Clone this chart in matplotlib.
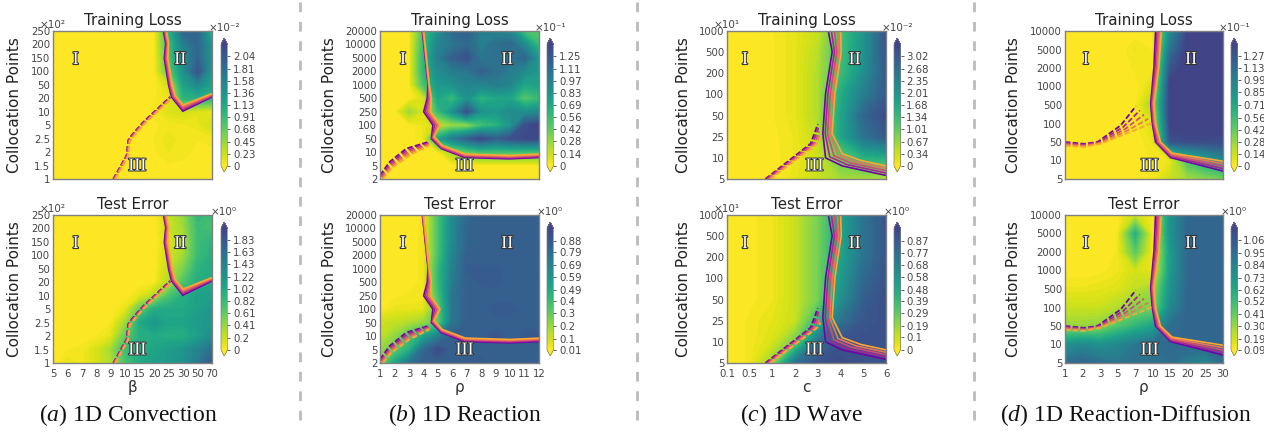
import numpy as np
import matplotlib
matplotlib.use("Agg")
import matplotlib.pyplot as plt
import matplotlib.patheffects as pe
from matplotlib.colors import ListedColormap

plt.rcParams['font.family'] = 'DejaVu Sans'
plt.rcParams['mathtext.fontset'] = 'custom'
plt.rcParams['mathtext.rm'] = 'Liberation Serif'
plt.rcParams['mathtext.it'] = 'Liberation Serif:italic'

# ---- tick labels ----
y_a = ['1', '1.5', '2', '2.5', '5', '10', '20', '50', '100', '150', '200', '250']
x_a = ['5', '6', '7', '8', '9', '10', '15', '20', '25', '30', '50', '70']
y_b = ['2', '5', '10', '50', '100', '250', '500', '1000', '2000', '5000', '10000', '20000']
x_b = ['1', '2', '3', '4', '5', '6', '7', '8', '9', '10', '11', '12']
y_c = ['5', '10', '25', '50', '100', '200', '500', '1000']
x_c = ['0.1', '0.5', '1', '2', '3', '4', '5', '6']
y_d = ['5', '10', '50', '100', '500', '1000', '2000', '5000', '10000']
x_d = ['1', '2', '3', '5', '7', '10', '15', '20', '25', '30']

# ---- grids, bottom row first ----
train_a = [
    [0, 0, 0, 0, 0, 0, 0, 0, 0, 0, 0, 0],
    [0, 0, 0, 0, 0, 0, 0, .01, .03, .03, .02, .02],
    [0, 0, 0, 0, 0, 0, 0, .03, .08, .05, .03, .03],
    [0, 0, 0, 0, 0, 0, 0, .04, .1, .05, .04, .05],
    [0, 0, 0, 0, 0, 0, 0, .03, .05, .06, .1, .2],
    [0, 0, 0, 0, 0, 0, 0, .05, .15, .2, .12, .1],
    [0, 0, 0, 0, 0, 0, 0, .03, .1, 1.0, 1.05, 1.0],
    [0, 0, 0, 0, 0, 0, 0, 0, .2, 1.2, 1.5, 1.2],
    [0, 0, 0, 0, 0, 0, 0, 0, .7, 1.4, 2.1, 1.3],
    [0, 0, 0, 0, 0, 0, 0, 0, .8, 1.5, 1.9, 1.35],
    [0, 0, 0, 0, 0, 0, 0, 0, .9, 1.6, 1.9, 1.3],
    [0, 0, 0, 0, 0, 0, 0, 0, 1.0, 1.9, 1.9, 1.0],
]
test_a = [
    [0, .1, .05, .15, .3, .7, 1.0, 1.1, 1.15, 1.25, 1.5, 1.85],
    [0, .03, .05, .15, .35, .8, .95, 1.05, 1.15, 1.2, 1.4, 1.6],
    [0, 0, 0, .03, .1, .6, .95, 1.0, .95, .95, 1.1, 1.3],
    [0, 0, 0, 0, .03, .35, 1.0, 1.2, 1.05, 1.05, 1.15, 1.2],
    [0, 0, 0, 0, 0, .1, .6, .95, 1.0, 1.0, 1.1, 1.2],
    [0, 0, 0, 0, 0, 0, .1, .3, .7, .95, 1.1, 1.1],
    [0, 0, 0, 0, 0, 0, 0, .02, .3, .7, .95, 1.0],
    [0, 0, 0, 0, 0, 0, 0, 0, .25, .5, .9, 1.0],
    [0, 0, 0, 0, 0, 0, 0, 0, .2, .35, .8, .95],
    [0, 0, 0, 0, 0, 0, 0, 0, .15, .3, .8, .9],
    [0, 0, 0, 0, 0, 0, 0, 0, .2, .35, .8, .75],
    [0, 0, 0, 0, 0, 0, 0, 0, .2, .4, .85, .8],
]
train_b = [
    [0, 0, 0, 0, 0, 0, 0, 0, 0, 0, 0, 0],
    [0, 0, 0, 0, 0, 0, 0, 0, 0, 0, 0, 0],
    [0, 0, 0, 0, .02, .25, .4, .5, .5, .5, .5, .5],
    [0, 0, 0, .05, .7, 1.0, 1.2, 1.35, 1.2, 1.3, 1.35, 1.35],
    [0, 0, 0, .05, .15, .25, .25, .5, .6, .8, 1.3, 1.4],
    [0, 0, .25, .1, .55, .85, 1.3, .85, .8, .9, .85, .9],
    [0, 0, 0, .1, .7, .55, .85, .6, .7, .7, .45, .55],
    [0, 0, 0, .5, .8, .85, .95, .95, 1.0, .95, .7, .75],
    [0, 0, 0, .6, .9, 1.0, 1.05, 1.2, 1.1, 1.0, .9, .8],
    [0, 0, 0, .6, 1.0, 1.2, 1.3, 1.05, 1.1, 1.1, 1.15, .8],
    [0, 0, 0, .55, .95, 1.05, 1.15, 1.0, 1.1, 1.15, .9, .55],
    [0, 0, 0, .5, .85, 1.15, 1.2, 1.0, .95, .9, .5, .45],
]
test_b = [
    [.25, .5, .75, .85, .85, .85, .87, .88, .85, .85, .85, .85],
    [.2, .3, .45, .8, .95, .85, .85, .85, .85, .85, .85, .85],
    [.12, .2, .35, .5, .7, .85, .85, .85, .9, .85, .88, .9],
    [.1, .12, .15, .2, .3, .75, .85, .85, .85, .85, .85, .85],
    [.02, .05, .05, .06, .3, .75, .85, .85, .88, .88, .85, .85],
    [.02, .02, .03, .03, .35, .75, .85, .85, .85, .85, .85, .85],
    [.01, .02, .02, .03, .4, .72, .85, .87, .88, .85, .85, .85],
    [.01, .01, .02, .03, .4, .7, .87, .87, .87, .85, .85, .85],
    [.01, .01, .02, .03, .35, .68, .85, .85, .85, .85, .85, .85],
    [.01, .01, .02, .03, .35, .65, .83, .85, .85, .85, .85, .85],
    [.01, .01, .02, .03, .35, .65, .83, .85, .85, .85, .85, .85],
    [.01, .01, .01, .03, .35, .65, .82, .85, .85, .85, .85, .85],
]
train_c = [
    [0, 0, 0, .15, .35, .55, .5, .45],
    [0, 0, .02, .12, .3, 1.0, 1.5, 1.6],
    [0, 0, .03, .12, .4, 1.7, 2.6, 3.0],
    [0, 0, .05, .15, .5, 1.7, 2.8, 3.25],
    [0, 0, .05, .15, .5, 1.6, 2.4, 3.0],
    [0, 0, .05, .15, .5, 1.3, 2.1, 3.0],
    [0, 0, .05, .15, .45, 1.3, 2.0, 3.1],
    [0, 0, .05, .15, .35, 1.2, 2.0, 3.1],
]
test_c = [
    [0, .02, .2, .75, .9, .93, .9, .9],
    [0, .02, .07, .25, .75, .9, .92, .9],
    [0, .02, .05, .1, .4, .75, .88, .92],
    [0, .01, .03, .1, .25, .6, .85, .92],
    [0, .01, .03, .1, .25, .55, .8, .9],
    [0, .01, .03, .1, .25, .5, .75, .88],
    [0, .01, .03, .1, .25, .5, .75, .88],
    [0, .01, .03, .1, .25, .5, .75, .88],
]
train_d = [
    [0, 0, 0, 0, 0, .03, .15, .25, .3, .35],
    [0, 0, 0, 0, 0, .03, .05, .5, .7, .9],
    [0, 0, 0, 0, 0, .05, 1.3, 1.35, 1.35, 1.35],
    [0, 0, 0, 0, .02, .1, 1.45, 1.45, 1.45, 1.45],
    [0, 0, 0, 0, .02, .25, 1.45, 1.45, 1.45, 1.45],
    [0, 0, 0, 0, 0, .1, 1.45, 1.45, 1.45, 1.45],
    [0, 0, 0, 0, .03, .03, 1.3, 1.45, 1.45, 1.45],
    [0, 0, 0, 0, .05, .02, 1.1, 1.45, 1.45, 1.45],
    [0, 0, 0, 0, 0, .02, .9, 1.4, 1.45, 1.45],
]
test_d = [
    [.95, 1.0, .95, .9, .95, .95, .95, .85, .8, .95],
    [.75, .8, .75, .8, .9, .95, .98, 1.0, 1.0, 1.0],
    [.3, .3, .32, .45, .55, .65, .95, 1.0, 1.0, 1.0],
    [.2, .2, .2, .25, .35, .35, .8, 1.0, 1.0, 1.0],
    [.13, .13, .14, .16, .22, .28, .75, 1.0, 1.0, 1.0],
    [.09, .09, .1, .12, .18, .13, .7, 1.0, 1.0, 1.0],
    [.09, .1, .09, .11, .42, .1, .7, 1.0, 1.0, 1.0],
    [.1, .09, .09, .11, .58, .1, .75, 1.0, 1.0, 1.0],
    [.09, .09, .09, .09, .2, .1, .75, 1.0, 1.0, 1.0],
]

# ---- colorbar ticks ----
cb_train_a = ['0', '0.23', '0.45', '0.68', '0.91', '1.13', '1.36', '1.58', '1.81', '2.04']
cb_test_a = ['0', '0.2', '0.41', '0.61', '0.82', '1.02', '1.22', '1.43', '1.63', '1.83']
cb_train_b = ['0', '0.14', '0.28', '0.42', '0.56', '0.69', '0.83', '0.97', '1.11', '1.25']
cb_test_b = ['0.01', '0.1', '0.2', '0.3', '0.4', '0.49', '0.59', '0.69', '0.79', '0.88']
cb_train_c = ['0', '0.34', '0.67', '1.01', '1.34', '1.68', '2.01', '2.35', '2.68', '3.02']
cb_test_c = ['0', '0.1', '0.19', '0.29', '0.39', '0.48', '0.58', '0.68', '0.77', '0.87']
cb_train_d = ['0', '0.14', '0.28', '0.42', '0.56', '0.71', '0.85', '0.99', '1.13', '1.27']
cb_test_d = ['0.09', '0.19', '0.30', '0.41', '0.52', '0.62', '0.73', '0.84', '0.95', '1.06']

# ---- region boundaries (grid index coordinates) ----
solid_a = [[7.64, 11], [7.8, 10.08], [7.7, 8.97], [8.0, 6.97], [8.2, 6.1], [8.98, 5.04], [11, 6.1]]
solid_a2 = [[7.85, 11], [8.0, 10.08], [7.95, 8.97], [8.25, 6.97], [8.45, 6.2], [9.0, 5.5], [11, 6.35]]
dash_a = [[4.17, 0], [5.09, 1.76], [5.2, 2.88], [5.44, 3.25], [6.25, 4.24], [8.1, 6.1]]
dash_a2 = [[4.3, 0], [5.2, 1.7], [5.32, 2.82], [5.56, 3.15], [6.35, 4.12], [8.2, 5.98]]
solid_b = [[2.93, 11], [3.32, 7.1], [3.27, 6.0], [3.02, 5.0], [3.66, 4], [3.55, 3], [4.24, 2.26], [5.85, 1.6], [8.96, 1.5], [11, 1.6]]
solid_b2 = [[3.02, 11], [3.4, 7.1], [3.55, 6.0], [3.5, 5.0], [4.15, 4], [3.75, 3.15], [4.3, 2.5], [5.9, 1.85], [9, 1.75], [11, 1.85]]
dash_b = [[0, .28], [.67, 1.27], [1.82, 2.26], [3.32, 2.75]]
dash_b2 = [[.2, 0], [.78, .77], [2.05, 1.76], [3.43, 2.5]]
solid_c = [[4.46, 7], [4.63, 6.02], [4.34, 4.04], [4.22, 2.15], [4.34, 1.0], [5.07, .62], [7, .17]]
solid_c2 = [[5, 7], [5.03, 6.02], [4.75, 4.04], [4.63, 2.15], [5.07, 1.2], [5.88, .88], [7, .62]]
dash_c = [[1.69, 0], [3.68, 1.67], [3.82, 2.07], [4.0, 2.6]]
dash_c2 = [[1.91, 0], [3.9, 1.6], [4.05, 1.75], [4.12, 1.91]]
solid_d = [[5.16, 8], [5.07, 6.07], [4.88, 4.08], [4.97, 3], [5.16, 2], [6.01, 1.16], [9, .43]]
solid_d2 = [[5.48, 8], [5.35, 6.07], [5.07, 4.08], [5.16, 3], [5.44, 2], [6.1, 1.4], [9, .96]]
dash_d = [[0, 2], [1.1, 1.9], [1.85, 2], [3.18, 2.9], [4.03, 3.93]]
dash_d2 = [[0, 1.8], [1.1, 1.73], [2.04, 1.91], [3.74, 2.55], [4.97, 3.03]]

W, H = 1264, 432
cmap = ListedColormap(plt.cm.viridis_r(np.linspace(0, 0.8, 256)))
cmap.set_under(plt.cm.viridis_r(0.0))
cmap.set_over(plt.cm.viridis_r(0.8))
line_cols = plt.cm.plasma([0.22, 0.38, 0.52, 0.66, 0.8])


def px_axes(x0, x1, y0, y1):
    return fig.add_axes([x0 / W, 1 - y1 / H, (x1 - x0) / W, (y1 - y0) / H])


def family(ax, a, b, solid):
    a = np.array(a, float)
    b = np.array(b, float)
    for t, c in zip(np.linspace(0, 1, 5), line_cols):
        p = a + (b - a) * t
        if solid:
            ax.plot(p[:, 0], p[:, 1], color=c, lw=1.2, solid_joinstyle='miter')
        else:
            ax.plot(p[:, 0], p[:, 1], color=c, lw=1.3, ls=(0, (3, 1.3)))


def panel(x0, x1, y0, y1, cx0, grid, xt, yt, title, ticks, exp, mult, lims, lines, romans, xlabel, ylab_x):
    ax = px_axes(x0, x1, y0, y1)
    Z = np.array(grid, float)
    X, Y = np.arange(Z.shape[1]), np.arange(Z.shape[0])
    vmin, vmax = lims
    cf = ax.contourf(X, Y, Z, levels=np.linspace(vmin, vmax, 60), cmap=cmap, extend='both')
    family(ax, lines[0], lines[1], True)
    family(ax, lines[2], lines[3], False)
    ax.set_xlim(X[0], X[-1])
    ax.set_ylim(Y[0], Y[-1])
    ax.set_yticks(Y, yt)
    ax.tick_params(axis='y', length=0, pad=2, labelsize=7.3, labelcolor='#444444')
    if xlabel:
        ax.set_xticks(X, xt)
        ax.tick_params(axis='x', length=0, pad=4, labelsize=7.3, labelcolor='#444444')
        ax.set_xlabel(xlabel, fontsize=11, color='#333333', labelpad=1)
    else:
        ax.set_xticks([])
    for s in ax.spines.values():
        s.set_color('#808080')
        s.set_linewidth(1)
    ax.set_title(title, fontsize=10.8, color='#222222', pad=4)
    ax.text((ylab_x - x0) / (x1 - x0), 0.5, 'Collocation Points', rotation=90, fontsize=11, color='#222222',
            ha='center', va='center', transform=ax.transAxes)
    if mult:
        ax.text(0, 1 + 6 / (y1 - y0), mult, fontsize=7.5, color='#444444', ha='center', va='center',
                transform=ax.transAxes)
    for (rx, ry), name in zip(romans, ['I', 'II', 'III']):
        ax.text(rx, ry, name, family='Liberation Serif', fontsize=13, color='white', ha='center', va='center',
                path_effects=[pe.withStroke(linewidth=1.5, foreground='#333333')])

    cax = px_axes(cx0, cx0 + 6.5, y0 + 7, y1 - 7)
    cb = fig.colorbar(cf, cax=cax)
    tick_vals = [float(t) for t in ticks]
    cb.set_ticks(tick_vals, labels=ticks)
    cb.ax.minorticks_off()
    cb.ax.tick_params(length=2, width=0.6, pad=2, labelsize=7.3, labelcolor='#444444', color='#444444')
    cb.outline.set_edgecolor('#808080')
    cb.outline.set_linewidth(0.5)
    fig.text((cx0 + 3) / W, 1 - (y0 - 3) / H, exp, fontsize=7.5, color='#444444', ha='center', va='center')


fig = plt.figure(figsize=(W / 100, H / 100), dpi=100)

TOP = (31, 179)
BOT = (215, 363)

lines_a = (solid_a, solid_a2, dash_a, dash_a2)
lines_b = (solid_b, solid_b2, dash_b, dash_b2)
lines_c = (solid_c, solid_c2, dash_c, dash_c2)
lines_d = (solid_d, solid_d2, dash_d, dash_d2)
rom_a = [(1.57, 8.88), (8.8, 8.88), (5.83, .97)]
rom_b = [(1.59, 8.88), (8.8, 8.88), (5.85, .97)]
rom_c = [(.79, 5.65), (5.62, 5.65), (3.85, .62)]
rom_d = [(1.19, 6.46), (7.18, 6.46), (4.82, .7)]

panel(53, 212, *TOP, 221, train_a, x_a, y_a, 'Training Loss', cb_train_a, '×10⁻²', '×10²',
      (0, 2.27), lines_a, rom_a, None, 15)
panel(53, 212, *BOT, 221, test_a, x_a, y_a, 'Test Error', cb_test_a, '×10⁰', '×10²',
      (0, 2.03), lines_a, rom_a, 'β', 15)
panel(380, 539, *TOP, 547, train_b, x_b, y_b, 'Training Loss', cb_train_b, '×10⁻¹', None,
      (0, 1.39), lines_b, rom_b, None, 330)
panel(380, 539, *BOT, 547, test_b, x_b, y_b, 'Test Error', cb_test_b, '×10⁰', None,
      (0.01, 0.98), lines_b, rom_b, 'ρ', 330)
panel(727, 886, *TOP, 894, train_c, x_c, y_c, 'Training Loss', cb_train_c, '×10⁻²', '×10¹',
      (0, 3.36), lines_c, rom_c, None, 683)
panel(727, 886, *BOT, 894, test_c, x_c, y_c, 'Test Error', cb_test_c, '×10⁰', '×10¹',
      (0, 0.97), lines_c, rom_c, 'c', 683)
panel(1065, 1223, *TOP, 1231, train_d, x_d, y_d, 'Training Loss', cb_train_d, '×10⁻¹', None,
      (0, 1.41), lines_d, rom_d, None, 1014)
panel(1065, 1223, *BOT, 1231, test_d, x_d, y_d, 'Test Error', cb_test_d, '×10⁰', None,
      (0.09, 1.17), lines_d, rom_d, 'ρ', 1014)

# captions
captions = [r'($\mathit{a}$) 1D Convection', r'($\mathit{b}$) 1D Reaction', r'($\mathit{c}$) 1D Wave',
            r'($\mathit{d}$) 1D Reaction-Diffusion']
cap_x = [128, 465, 802, 1126]
for cx, cap in zip(cap_x, captions):
    fig.text(cx / W, 1 - 415 / H, cap, family='Liberation Serif', fontsize=17, color='#111111', ha='center', va='center')

# dashed separators
for sx in [300, 637, 974]:
    fig.add_artist(plt.Line2D([sx / W, sx / W], [1 - 420 / H, 1], color='#bbbbbb', lw=2, ls=(0, (3.5, 3.5))))

fig.savefig('out.png', dpi=100)
